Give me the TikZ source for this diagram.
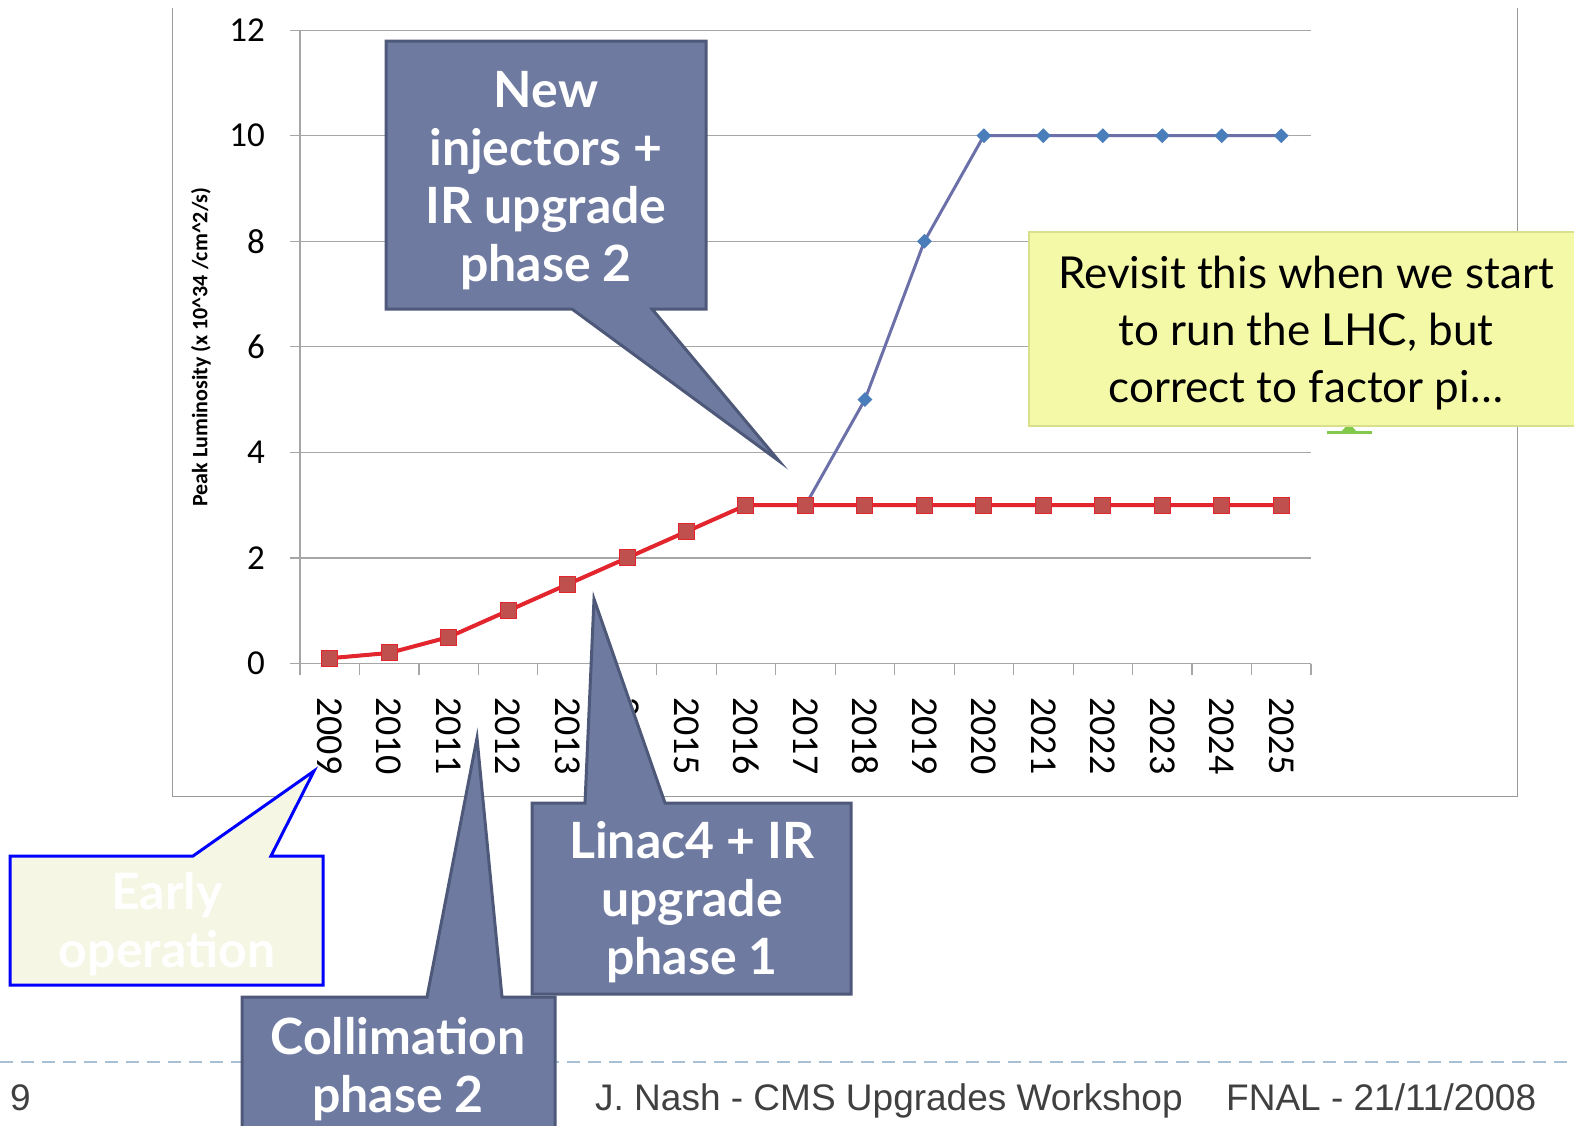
\documentclass[tikz,border=0pt]{standalone}
\usepackage{fontspec}
\setmainfont{Lato}
\newfontfamily\calibri{Carlito}
\newfontfamily\arial{Liberation Sans}
\usetikzlibrary{shapes.geometric}

\tikzset{
  rejilla/.style={draw=gray!70,line width=1.2pt},
  ylab/.style={anchor=east,inner sep=0pt,font=\calibri\fontsize{35}{35}\selectfont},
  xlab/.style={anchor=west,rotate=-90,inner sep=0pt,font=\calibri\fontsize{38}{38}\selectfont},
  cuadro/.style={rectangle,fill=rojom,draw=rojo,line width=1pt,minimum size=16pt,inner sep=0pt},
  diamante/.style={diamond,fill=azulm,minimum size=15pt,inner sep=0pt},
  globo/.style={fill=globofill,draw=globoborde,line width=3pt,line join=miter},
  globotexto/.style={text=white,align=center,font=\bfseries\fontsize{50}{58}\selectfont},
  nota/.style={fill=amarillo,draw=amarilloborde,line width=2.5pt},
  piefont/.style={text=black!75,inner sep=0pt,anchor=base west,font=\arial\fontsize{37}{37}\selectfont}
}

\begin{document}
\begin{tikzpicture}[x=1pt,y=-1pt]
        %colores
        \definecolor{globofill}{HTML}{6F7AA1}
        \definecolor{globoborde}{HTML}{4E5878}
        \definecolor{rojo}{HTML}{E3262E}
        \definecolor{rojom}{HTML}{C0504D}
        \definecolor{azul}{HTML}{6B70A8}
        \definecolor{azulm}{HTML}{4A7EBB}
        \definecolor{amarillo}{HTML}{F4F9A8}
        \definecolor{amarilloborde}{HTML}{D8E08C}
        \definecolor{crema}{HTML}{F5F7E4}
        \definecolor{pie}{HTML}{A8C0D6}
        \colorlet{verde}{green!40!olive!70}

        \useasboundingbox (0,0) rectangle (1574,1125);

        % marco del grafico
        \draw[gray!80,line width=1pt] (172,8) -- (172,796) -- (1517,796) -- (1517,8);

        % rejilla y numeracion eje y
        \foreach \v in {0,2,...,12}{
            \draw[rejilla] (290,{663.5-52.78*\v}) -- (1311,{663.5-52.78*\v});
            \node[ylab] (y\v) at (265,{663.5-52.78*\v}) {\v};
        }
        \draw[rejilla] (300,30) -- (300,675);
        \foreach \i in {0,...,17}
            \draw[rejilla] ({300+59.47*\i},663.5) -- ++(0,11);
        \node[rotate=90,font=\calibri\bfseries\fontsize{22}{24}\selectfont] (ytitulo) at (201,347)
            {Peak Luminosity (x 10\textasciicircum34 /cm\textasciicircum2/s)};

        % anos
        \foreach \i in {0,...,16}{
            \pgfmathtruncatemacro{\yr}{2009+\i}
            \node[xlab] (x\i) at ({329.7+59.47*\i},697) {\yr};
        }

        % series
        \foreach \i/\v in {0/0.1,1/0.2,2/0.5,3/1,4/1.5,5/2,6/2.5,7/3,8/3,9/5,10/8,11/10,12/10,13/10,14/10,15/10,16/10}
            \coordinate (b\i) at ({329.7+59.47*\i},{663.5-52.78*\v});
        \foreach \i/\v in {0/0.1,1/0.2,2/0.5,3/1,4/1.5,5/2,6/2.5,7/3,8/3,9/3,10/3,11/3,12/3,13/3,14/3,15/3,16/3}
            \coordinate (r\i) at ({329.7+59.47*\i},{663.5-52.78*\v});
        \draw[azul,line width=3pt,line join=round] (b0) \foreach \i in {1,...,16}{-- (b\i)};
        \foreach \i in {9,...,16}
            \node[diamante] (mb\i) at (b\i) {};
        \draw[rojo,line width=4pt,line join=round] (r0) \foreach \i in {1,...,16}{-- (r\i)};
        \foreach \i in {0,...,16}
            \node[cuadro] (mr\i) at (r\i) {};

        % pie de pagina
        \draw[pie,line width=2pt,dash pattern=on 13pt off 8pt] (0,1062) -- (1574,1062);
        \node[piefont] (pagina) at (10,1110) {9};
        \node[piefont] (autor) at (595,1110) {J. Nash - CMS Upgrades Workshop};
        \node[piefont] (fecha) at (1226,1110) {FNAL - 21/11/2008};

        % nota amarilla
        \draw[verde,line width=3pt] (1327,432) -- (1372,432);
        \fill[verde] (1341,432) -- (1349,423) -- (1357,432) -- cycle;
        \draw[nota] (1029,232) rectangle (1585,426);
        \node[align=center,font=\fontsize{44}{57}\selectfont] (revisar) at (1306,333)
            {Revisit this when we start\\to run the LHC, but\\correct to factor pi\dots};

        % globos
        \coordinate (puntaA) at (779,461);
        \draw[globo] (386,41) -- (706,41) -- (706,309) -- (652,309) -- (puntaA) -- (572,309) -- (386,309) -- cycle;
        \node[globotexto] (inyectores) at (546,181) {New\\injectors +\\IR upgrade\\phase 2};

        \coordinate (puntaB) at (594,599);
        \draw[globo] (532,803) -- (585,803) -- (puntaB) -- (665,803) -- (851,803) -- (851,994) -- (532,994) -- cycle;
        \node[globotexto] (linac) at (692,902) {Linac4 + IR\\upgrade\\phase 1};

        \coordinate (puntaC) at (477,738);
        \draw[globo] (242,997) -- (427,997) -- (puntaC) -- (502,997) -- (555,997) -- (555,1135) -- (242,1135) -- cycle;
        \node[globotexto] (colimacion) at (398,1069) {Collimation\\phase 2};

        \coordinate (puntaD) at (314,771);
        \draw[fill=crema,draw=blue,line width=3pt] (10,856) -- (193,856) -- (puntaD) -- (271,856) -- (323,856) -- (323,985) -- (10,985) -- cycle;
        \node[globotexto] (temprano) at (167,924) {Early\\operation};
\end{tikzpicture}
\end{document}
